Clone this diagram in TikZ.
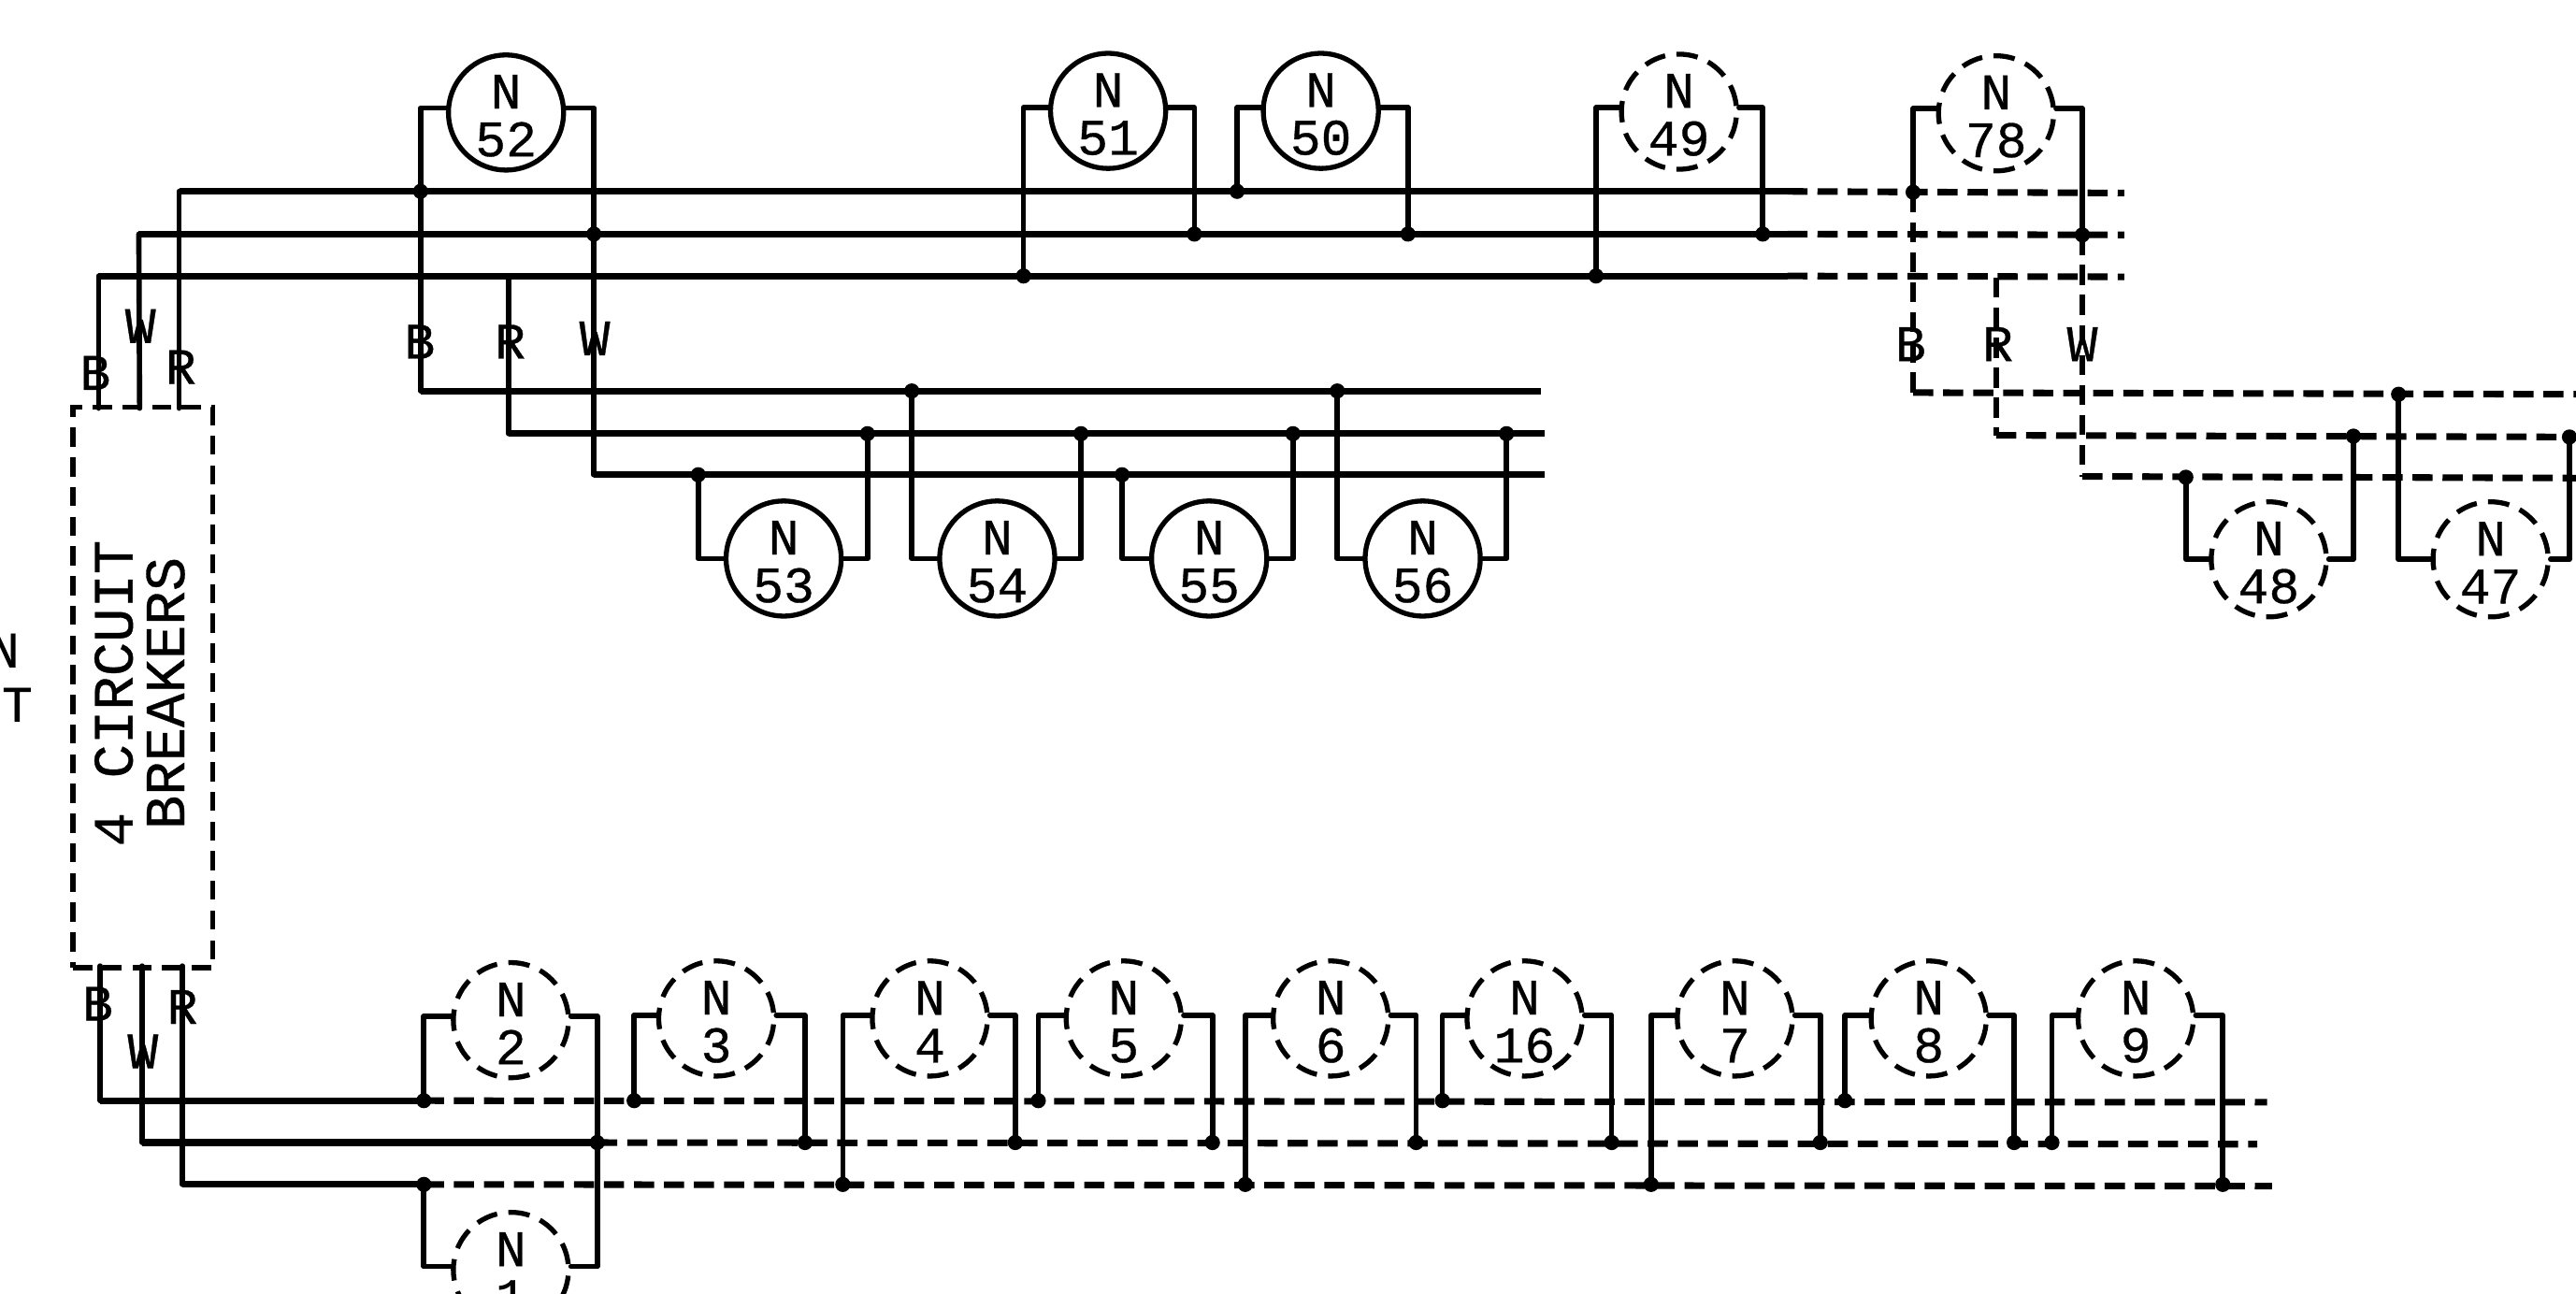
\documentclass[tikz,border=0pt]{standalone}
\usepackage{fontspec}
\newfontfamily\plot[FakeBold=0.6]{Liberation Mono}
\tikzset{
  wire/.style={line width=1.6pt,line cap=round,line join=round},
  dwire/.style={wire,line cap=butt,dash pattern=on 6.1pt off 3pt},
  bus/.style={line width=2pt,line join=round},
  dbus/.style={line width=2pt,dash pattern=on 6.1pt off 3pt},
  jn/.style={circle,fill=black,inner sep=0pt,minimum size=4.6pt},
  motor/.style={circle,draw,line width=1.5pt,inner sep=0pt,minimum size=34.9pt,align=center,
    font=\plot\fontsize{15.5}{14.5}\selectfont},
  dmotor/.style={motor,dash pattern=on 6.5pt off 3.46pt,dash phase=8.2pt},
  tag/.style={inner sep=0pt,font=\plot\fontsize{15.5}{18}\selectfont},
  cbox/.style={draw,line width=1.6pt,dash pattern=on 5.8pt off 3.2pt,minimum width=42.4pt,minimum height=170pt},
  cbtext/.style={inner sep=0pt,rotate=90,align=center,font=\plot\fontsize{17.2}{15.7}\selectfont}
}
% \mw{junction}{motor node}{side}{lift}
\newcommand{\mw}[4]{\draw[wire] (#1.center) |- ([yshift=#4]#2.#3);}
% motor caption: first line raised box pushes the pair slightly down
\newcommand{\mc}[1]{\rule{0pt}{12.2pt}N\\#1}
\begin{document}
\begin{tikzpicture}[x=0.49807pt,y=-0.49807pt]
\useasboundingbox (0,0) rectangle (1568,787.7);
\clip (0,0) rectangle (1568,787.7);

% stray margin lettering
\node[tag] (mgN) at (2.5,396) {N};
\node[tag] (mgT) at (10.5,429) {T};

% breaker box
\node[cbox] (cb) at (87,418.5) {};
\node[cbtext] (cbt) at (85,422) {4 CIRCUIT\\BREAKERS};
\coordinate (cbTB) at (60,248.5);
\coordinate (cbTW) at (85,248.5);
\coordinate (cbTR) at (109,248.5);
\coordinate (cbBB) at (61,588);
\coordinate (cbBW) at (86.5,588);
\coordinate (cbBR) at (111,588);

% ---------- upper main run
\coordinate (tR0) at (109,116.5);
\coordinate (tRs) at (1088,116.5);
\coordinate (tRe) at (1293,117.5);
\coordinate (tW0) at (84.5,142.5);
\coordinate (tWs) at (1088,142.5);
\coordinate (tWe) at (1293,143);
\coordinate (tB0) at (60,168);
\coordinate (tBs) at (1088,168);
\coordinate (tBe) at (1293,168.5);
\draw[wire] (cbTB) -- (tB0);
\draw[wire] (cbTW) -- (tW0);
\draw[wire] (cbTR) -- (tR0);
\draw[bus] (tR0) -- (tRs);
\draw[bus] (tW0) -- (tWs);
\draw[bus] (tB0) -- (tBs);
\draw[dbus] (tRs) -- (tRe);
\draw[dbus] (tWs) -- (tWe);
\draw[dbus] (tBs) -- (tBe);
\node[tag] (lb1) at (58,227) {B};
\node[tag] (lw1) at (85.5,198.5) {W};
\node[tag] (lr1) at (110,223.5) {R};

% ---------- first branch
\coordinate (aB0) at (256,238);
\coordinate (aBe) at (938,238);
\coordinate (aR0) at (309.5,264);
\coordinate (aRe) at (940,264);
\coordinate (aW0) at (361.5,289);
\coordinate (aWe) at (940,289);
\coordinate (aRt) at (309.5,168);
\draw[bus] (aB0) -- (aBe);
\draw[bus] (aR0) -- (aRe);
\draw[bus] (aW0) -- (aWe);
\node[jn] (j52l) at (256,116.5) {};
\node[jn] (j52r) at (361.5,142.5) {};
\draw[wire] (j52l.center) -- (aB0);
\draw[wire] (j52r.center) -- (aW0);
\draw[wire] (aRt) -- (aR0);
\node[tag] (lb2) at (255.5,208) {B};
\node[tag] (lr2) at (310.5,208) {R};
\node[tag] (lw2) at (362,206) {W};

\node[motor] (m52) at (308,68.5) {\mc{52}};
\mw{j52l}{m52}{west}{1.4pt}
\mw{j52r}{m52}{east}{1.4pt}

\node[motor] (m51) at (674.5,67.5) {\mc{51}};
\node[jn] (j51l) at (623,168) {};
\node[jn] (j51r) at (727,142.5) {};
\mw{j51l}{m51}{west}{1pt}
\mw{j51r}{m51}{east}{1pt}

\node[motor] (m50) at (804,67.5) {\mc{50}};
\node[jn] (j50l) at (753,116.5) {};
\node[jn] (j50r) at (857,142.5) {};
\mw{j50l}{m50}{west}{1pt}
\mw{j50r}{m50}{east}{1pt}

\node[dmotor] (m49) at (1022,68) {\mc{49}};
\node[jn] (j49l) at (971.5,168) {};
\node[jn] (j49r) at (1073,142.5) {};
\mw{j49l}{m49}{west}{1.2pt}
\mw{j49r}{m49}{east}{1.2pt}

\node[dmotor] (m78) at (1215,69) {\mc{78}};
\node[jn] (j78l) at (1164.5,117) {};
\node[jn] (j78r) at (1267.5,143) {};
\mw{j78l}{m78}{west}{1.4pt}
\mw{j78r}{m78}{east}{1.4pt}

% lower row of first branch
\node[motor] (m53) at (477,340) {\mc{53}};
\node[jn] (j53l) at (425,289) {};
\node[jn] (j53r) at (528,264) {};
\mw{j53l}{m53}{west}{0pt}
\mw{j53r}{m53}{east}{0pt}

\node[motor] (m54) at (607,340) {\mc{54}};
\node[jn] (j54l) at (555,238) {};
\node[jn] (j54r) at (658,264) {};
\mw{j54l}{m54}{west}{0pt}
\mw{j54r}{m54}{east}{0pt}

\node[motor] (m55) at (736,340) {\mc{55}};
\node[jn] (j55l) at (683,289) {};
\node[jn] (j55r) at (787,264) {};
\mw{j55l}{m55}{west}{0pt}
\mw{j55r}{m55}{east}{0pt}

\node[motor] (m56) at (866,340) {\mc{56}};
\node[jn] (j56l) at (814,238) {};
\node[jn] (j56r) at (917,264) {};
\mw{j56l}{m56}{west}{0pt}
\mw{j56r}{m56}{east}{0pt}

% ---------- dashed branch on the right
\coordinate (dB0) at (1164.5,239);
\coordinate (dBe) at (1568,240);
\coordinate (dR0) at (1215,265);
\coordinate (dRe) at (1568,266);
\coordinate (dW0) at (1267.5,290);
\coordinate (dWe) at (1568,291);
\coordinate (dRt) at (1215,169);
\draw[dbus] (dB0) -- (dBe);
\draw[dbus] (dR0) -- (dRe);
\draw[dbus] (dW0) -- (dWe);
\draw[dwire] (j78l.center) -- (dB0);
\draw[dwire] (j78r.center) -- (dW0);
\draw[dwire] (dRt) -- (dR0);
\node[tag] (lb3) at (1163,209.5) {B};
\node[tag] (lr3) at (1216,209.5) {R};
\node[tag] (lw3) at (1267.5,209.5) {W};

\node[dmotor] (m48) at (1381,340.5) {\mc{48}};
\node[jn] (j48l) at (1330.5,290.5) {};
\node[jn] (j48r) at (1432.5,265.5) {};
\mw{j48l}{m48}{west}{0pt}
\mw{j48r}{m48}{east}{0pt}

\node[dmotor] (m47) at (1516,340.5) {\mc{47}};
\node[jn] (j47l) at (1460,240) {};
\node[jn] (j47r) at (1564,266) {};
\mw{j47l}{m47}{west}{0pt}
\mw{j47r}{m47}{east}{0pt}

% ---------- lower main run
\coordinate (uB0) at (61,670);
\coordinate (uBs) at (258,670);
\coordinate (uBe) at (1380,671);
\coordinate (uW0) at (86.5,695.5);
\coordinate (uWs) at (363.5,695.5);
\coordinate (uWe) at (1374,696.5);
\coordinate (uR0) at (111,721);
\coordinate (uRs) at (258,721);
\coordinate (uRe) at (1383,722);
\draw[wire] (cbBB) -- (uB0);
\draw[wire] (cbBW) -- (uW0);
\draw[wire] (cbBR) -- (uR0);
\draw[bus] (uB0) -- (uBs);
\draw[bus] (uW0) -- (uWs);
\draw[bus] (uR0) -- (uRs);
\draw[dbus] (uBs) -- (uBe);
\draw[dbus] (uWs) -- (uWe);
\draw[dbus] (uRs) -- (uRe);
\node[tag] (lb4) at (59.5,611) {B};
\node[tag] (lw4) at (87,640) {W};
\node[tag] (lr4) at (111,613) {R};

\node[jn] (j2l) at (258,670) {};
\node[jn] (j2r) at (363.5,695.5) {};
\node[jn] (j1l) at (258,721) {};
\node[dmotor] (m2) at (311,621) {\mc{2}};
\mw{j2l}{m2}{west}{1.2pt}
\mw{j2r}{m2}{east}{1.2pt}
\node[dmotor] (m1) at (311,773) {\mc{1}};
\mw{j1l}{m1}{west}{1pt}
\mw{j2r}{m1}{east}{1pt}

\node[dmotor] (m3) at (436,620) {\mc{3}};
\node[jn] (j3l) at (386,670) {};
\node[jn] (j3r) at (490,695.5) {};
\mw{j3l}{m3}{west}{1pt}
\mw{j3r}{m3}{east}{1pt}

\node[dmotor] (m4) at (566,620) {\mc{4}};
\node[jn] (j4l) at (513,721) {};
\node[jn] (j4r) at (618,695.5) {};
\mw{j4l}{m4}{west}{1pt}
\mw{j4r}{m4}{east}{1pt}

\node[dmotor] (m5) at (684,620) {\mc{5}};
\node[jn] (j5l) at (632,670) {};
\node[jn] (j5r) at (738,695.5) {};
\mw{j5l}{m5}{west}{1pt}
\mw{j5r}{m5}{east}{1pt}

\node[dmotor] (m6) at (810,620) {\mc{6}};
\node[jn] (j6l) at (758,721) {};
\node[jn] (j6r) at (862,695.5) {};
\mw{j6l}{m6}{west}{1pt}
\mw{j6r}{m6}{east}{1pt}

\node[dmotor] (m16) at (928,620) {\mc{16}};
\node[jn] (j16l) at (878,670) {};
\node[jn] (j16r) at (981,695.5) {};
\mw{j16l}{m16}{west}{1pt}
\mw{j16r}{m16}{east}{1pt}

\node[dmotor] (m7) at (1056,620) {\mc{7}};
\node[jn] (j7l) at (1005,721) {};
\node[jn] (j7r) at (1108,695.5) {};
\mw{j7l}{m7}{west}{1pt}
\mw{j7r}{m7}{east}{1pt}

\node[dmotor] (m8) at (1174,620) {\mc{8}};
\node[jn] (j8l) at (1123,670) {};
\node[jn] (j8r) at (1226,695.5) {};
\mw{j8l}{m8}{west}{1pt}
\mw{j8r}{m8}{east}{1pt}

\node[dmotor] (m9) at (1300,620) {\mc{9}};
\node[jn] (j9l) at (1249,695.5) {};
\node[jn] (j9r) at (1353,721) {};
\mw{j9l}{m9}{west}{1pt}
\mw{j9r}{m9}{east}{1pt}
\end{tikzpicture}
\end{document}
